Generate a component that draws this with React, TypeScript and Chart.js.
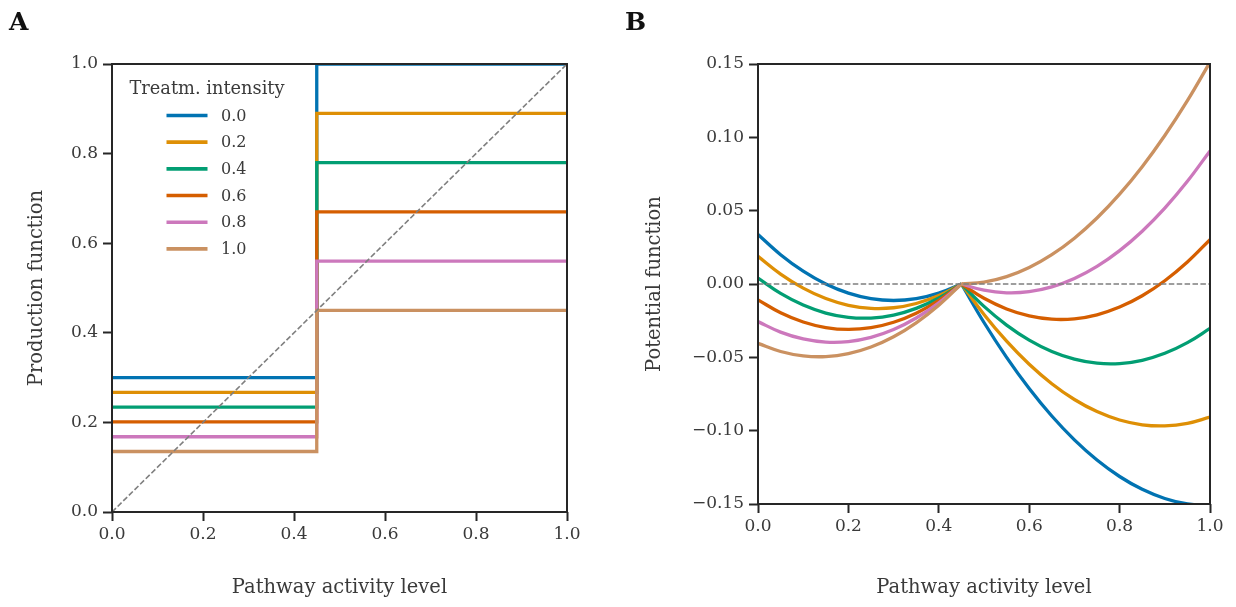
import React, { useEffect, useRef } from 'react';
import { Chart, registerables } from 'chart.js';

Chart.register(...registerables);

// ---------- data ----------
const treatmentLabels = ['0.0', '0.2', '0.4', '0.6', '0.8', '1.0'];
const seriesColors = ['#0173B2', '#DE8F05', '#029E73', '#D55E00', '#CC78BC', '#CA9161'];

// Panel A: production function (step at the switch point)
const switchPoint = 0.45;
const lowProduction = [0.3, 0.267, 0.234, 0.201, 0.168, 0.135];
const highProduction = [1.0, 0.89, 0.78, 0.67, 0.56, 0.45];
const diagonalX = [0, 1];
const diagonalY = [0, 1];

// Panel B: potential function sampled along activity level
const activityGrid = [0, 0.05, 0.1, 0.15, 0.2, 0.25, 0.3, 0.35, 0.4, 0.45, 0.5, 0.55, 0.6, 0.65, 0.7, 0.75, 0.8, 0.85, 0.9, 0.95, 1.0];
const switchIndex = 9; // index of activity 0.45 in activityGrid
const potential00 = [0.03375, 0.02, 0.00875, 0, -0.00625, -0.01, -0.01125, -0.01, -0.00625, 0, -0.02625, -0.05, -0.07125, -0.09, -0.10625, -0.12, -0.13125, -0.14, -0.14625, -0.15, -0.15125];
const potential02 = [0.0189, 0.0068, -0.0028, -0.0099, -0.0145, -0.0166, -0.0162, -0.0133, -0.0079, 0, -0.02075, -0.039, -0.05475, -0.068, -0.07875, -0.087, -0.09275, -0.096, -0.09675, -0.095, -0.09075];
const potential04 = [0.00405, -0.0064, -0.01435, -0.0198, -0.02275, -0.0232, -0.02115, -0.0166, -0.00955, 0, -0.01525, -0.028, -0.03825, -0.046, -0.05125, -0.054, -0.05425, -0.052, -0.04725, -0.04, -0.03025];
const potential06 = [-0.0108, -0.0196, -0.0259, -0.0297, -0.031, -0.0298, -0.0261, -0.0199, -0.0112, 0, -0.00975, -0.017, -0.02175, -0.024, -0.02375, -0.021, -0.01575, -0.008, 0.00225, 0.015, 0.03025];
const potential08 = [-0.02565, -0.0328, -0.03745, -0.0396, -0.03925, -0.0364, -0.03105, -0.0232, -0.01285, 0, -0.00425, -0.006, -0.00525, -0.002, 0.00375, 0.012, 0.02275, 0.036, 0.05175, 0.07, 0.09075];
const potential10 = [-0.0405, -0.046, -0.049, -0.0495, -0.0475, -0.043, -0.036, -0.0265, -0.0145, 0, 0.00125, 0.005, 0.01125, 0.02, 0.03125, 0.045, 0.06125, 0.08, 0.10125, 0.125, 0.15125];
const potentialSeries = [potential00, potential02, potential04, potential06, potential08, potential10];
const zeroLineX = [0, 1];
const zeroLineY = [0, 0];

// ticks
const activityTicks = [0, 0.2, 0.4, 0.6, 0.8, 1.0];
const productionTicks = [0, 0.2, 0.4, 0.6, 0.8, 1.0];
const potentialTicks = [-0.15, -0.1, -0.05, 0, 0.05, 0.1, 0.15];

// ---------- styles ----------
const FONT = '"DejaVu Serif", "Liberation Serif", serif';
const TEXT = '#3a3a3a';
const SPINE = '#262626';
const DASH = '#7f7f7f';
const LINE_W = 3.3;

const framePlugin = {
  id: 'frame',
  afterDatasetsDraw(chart: any) {
    const { ctx, chartArea: a } = chart;
    ctx.save();
    ctx.strokeStyle = SPINE;
    ctx.lineWidth = 2;
    ctx.strokeRect(a.left, a.top, a.right - a.left, a.bottom - a.top);
    ctx.restore();
  },
};

function panelLetterPlugin(letter: string, x: number) {
  return {
    id: 'panelLetter' + letter,
    afterDraw(chart: any) {
      const { ctx } = chart;
      ctx.save();
      ctx.fillStyle = '#111';
      ctx.font = `bold 25px ${FONT}`;
      ctx.textAlign = 'left';
      ctx.textBaseline = 'alphabetic';
      ctx.fillText(letter, x, 30);
      ctx.restore();
    },
  };
}

const legendPlugin = {
  id: 'treatLegend',
  afterDraw(chart: any) {
    const { ctx, chartArea: a } = chart;
    ctx.save();
    ctx.fillStyle = TEXT;
    ctx.font = `17.8px ${FONT}`;
    ctx.textAlign = 'center';
    ctx.textBaseline = 'middle';
    ctx.fillText('Treatm. intensity', a.left + 95, a.top + 25);
    ctx.font = `16px ${FONT}`;
    ctx.textAlign = 'left';
    treatmentLabels.forEach((lab, i) => {
      const y = a.top + 51.5 + i * 26.67;
      ctx.strokeStyle = seriesColors[i];
      ctx.lineWidth = 3.6;
      ctx.beginPath();
      ctx.moveTo(a.left + 54.5, y);
      ctx.lineTo(a.left + 95.5, y);
      ctx.stroke();
      ctx.fillStyle = TEXT;
      ctx.fillText(lab, a.left + 109, y + 1);
    });
    ctx.restore();
  },
};

function gridOpts() {
  return {
    drawOnChartArea: false,
    drawTicks: true,
    tickLength: 9,
    tickWidth: 2,
    tickColor: SPINE,
    color: SPINE,
  };
}

function xAxis(height: number) {
  return {
    type: 'linear',
    min: 0,
    max: 1,
    afterFit: (s: any) => {
      s.height = height;
    },
    afterBuildTicks: (s: any) => {
      s.ticks = activityTicks.map((v) => ({ value: v }));
    },
    ticks: {
      font: { family: FONT, size: 17 },
      color: TEXT,
      padding: 3,
      maxRotation: 0,
      autoSkip: false,
      callback: (v: any) => Number(v).toFixed(1),
    },
    grid: gridOpts(),
    border: { display: false },
    title: {
      display: true,
      text: 'Pathway activity level',
      font: { family: FONT, size: 19.5 },
      color: TEXT,
      padding: { top: 0, bottom: 7 },
    },
  };
}

function yAxis(width: number, min: number, max: number, tickVals: number[], digits: number, title: string) {
  return {
    type: 'linear',
    min,
    max,
    afterFit: (s: any) => {
      s.width = width;
    },
    afterBuildTicks: (s: any) => {
      s.ticks = tickVals.map((v) => ({ value: v }));
    },
    ticks: {
      font: { family: FONT, size: 17 },
      color: TEXT,
      padding: 5,
      autoSkip: false,
      callback: (v: any) => {
        const n = Number(v);
        return (n < -1e-9 ? '\u2212' : '') + Math.abs(n).toFixed(digits);
      },
    },
    grid: gridOpts(),
    border: { display: false },
    title: {
      display: true,
      text: title,
      font: { family: FONT, size: 19.5 },
      color: TEXT,
      padding: { top: 25, bottom: 0 },
    },
  };
}

function stepPoints(i: number) {
  return [
    { x: 0, y: lowProduction[i] },
    { x: switchPoint, y: lowProduction[i] },
    { x: switchPoint, y: highProduction[i] },
    { x: 1, y: highProduction[i] },
  ];
}

function buildA(canvas: HTMLCanvasElement) {
  const datasets: any[] = treatmentLabels.map((lab, i) => ({
    label: lab,
    data: stepPoints(i),
    showLine: true,
    borderColor: seriesColors[i],
    backgroundColor: seriesColors[i],
    borderWidth: LINE_W,
    pointRadius: 0,
    tension: 0,
    order: 20 - i,
  }));
  datasets.push({
    label: 'diagonal',
    data: diagonalX.map((x, k) => ({ x, y: diagonalY[k] })),
    showLine: true,
    borderColor: DASH,
    borderWidth: 1.6,
    borderDash: [5.5, 2.4],
    pointRadius: 0,
    order: 0,
  });
  return new Chart(canvas, {
    type: 'scatter',
    data: { datasets },
    options: {
      animation: false,
      responsive: false,
      events: [],
      layout: { padding: { left: 0, top: 64, right: 51, bottom: 0 } },
      plugins: { legend: { display: false }, tooltip: { enabled: false } },
      scales: {
        x: xAxis(95) as any,
        y: yAxis(112, 0, 1, productionTicks, 1, 'Production function') as any,
      },
    },
    plugins: [framePlugin, legendPlugin, panelLetterPlugin('A', 9)],
  });
}

function buildB(canvas: HTMLCanvasElement) {
  const datasets: any[] = [];
  potentialSeries.forEach((vals, i) => {
    const pts = activityGrid.map((x, k) => ({ x, y: vals[k] }));
    // left branch and right branch (sharp kink at the switch point)
    [pts.slice(0, switchIndex + 1), pts.slice(switchIndex)].forEach((part) => {
      datasets.push({
        label: treatmentLabels[i],
        data: part,
        showLine: true,
        borderColor: seriesColors[i],
        backgroundColor: seriesColors[i],
        borderWidth: LINE_W,
        pointRadius: 0,
        tension: 0.4,
        cubicInterpolationMode: 'default',
        order: 20 - i,
      });
    });
  });
  datasets.push({
    label: 'zero',
    data: zeroLineX.map((x, k) => ({ x, y: zeroLineY[k] })),
    showLine: true,
    borderColor: DASH,
    borderWidth: 1.6,
    borderDash: [5.5, 2.4],
    pointRadius: 0,
    order: 0,
  });
  return new Chart(canvas, {
    type: 'scatter',
    data: { datasets },
    options: {
      animation: false,
      responsive: false,
      events: [],
      layout: { padding: { left: 0, top: 64, right: 26, bottom: 0 } },
      plugins: { legend: { display: false }, tooltip: { enabled: false } },
      scales: {
        x: xAxis(103) as any,
        y: yAxis(140, -0.15, 0.15, potentialTicks, 2, 'Potential function') as any,
      },
    },
    plugins: [framePlugin, panelLetterPlugin('B', 7)],
  });
}

export default function App() {
  const refA = useRef<HTMLCanvasElement | null>(null);
  const refB = useRef<HTMLCanvasElement | null>(null);

  useEffect(() => {
    const a = buildA(refA.current as HTMLCanvasElement);
    const b = buildB(refB.current as HTMLCanvasElement);
    return () => {
      a.destroy();
      b.destroy();
    };
  }, []);

  return (
    <div style={{ position: 'absolute', left: 0, top: 0, width: 1236, height: 607, background: '#fff' }}>
      <canvas ref={refA} width={618} height={607} style={{ position: 'absolute', left: 0, top: 0, width: 618, height: 607 }} />
      <canvas ref={refB} width={618} height={607} style={{ position: 'absolute', left: 618, top: 0, width: 618, height: 607 }} />
    </div>
  );
}
